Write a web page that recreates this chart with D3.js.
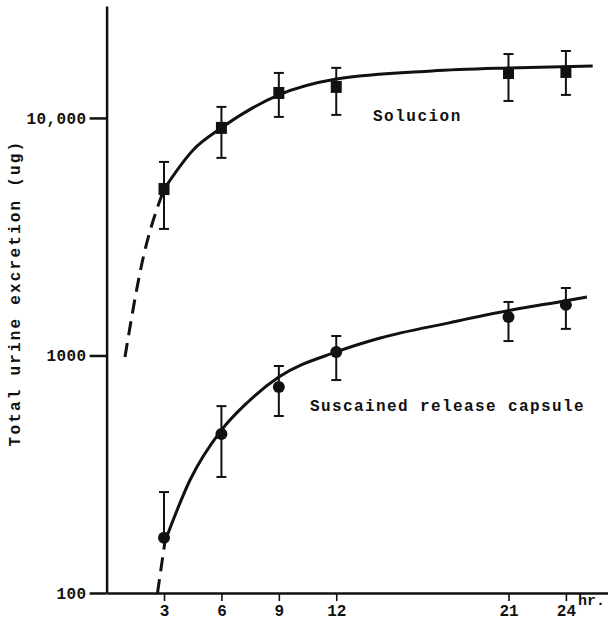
<!DOCTYPE html>
<html>
<head>
<meta charset="utf-8">
<script src="https://cdn.jsdelivr.net/npm/d3@7"></script>
<style>
  body { margin: 0; background: #fff; }
  text { font-family: "Liberation Mono", "DejaVu Sans Mono", monospace; fill: #111; font-weight: bold; }
</style>
</head>
<body>
<script>
// measured points (hours after dose)
var hours = [3, 6, 9, 12, 21, 24];
var solutionMean = [5020, 9080, 12740, 13510, 15460, 15620];
var solutionHigh = [6530, 11130, 15470, 16250, 18580, 19140];
var solutionLow  = [3410, 6790, 10100, 10300, 11790, 12500];
var capsuleMean = [171, 467, 736, 1035, 1452, 1633];
var capsuleHigh = [266, 612, 903, 1208, 1680, 1923];
var capsuleLow  = [null, 308, 556, 788, 1150, 1294];

// fitted curves
var solDashHours = [0.96, 1.85, 3];
var solDashVals  = [986, 2450, 5020];
var solFitHours = [3, 4.5, 6, 9, 12, 17, 21, 25.4];
var solFitVals  = [5020, 7300, 9080, 12500, 14580, 15780, 16240, 16560];
var capDashHours = [2.66, 3.05];
var capDashVals  = [100, 165];
var capFitHours = [3.05, 4.36, 6, 7.33, 9, 12, 14.3, 17.9, 21.1, 24, 25.1];
var capFitVals  = [165, 299, 485, 631, 811, 1035, 1185, 1372, 1550, 1700, 1763];

var yTicks = [100, 1000, 10000];
var yTickLabels = ['100', '1000', '10,000'];

var width = 608, height = 631;
var svg = d3.select('body').append('svg')
    .attr('width', width).attr('height', height);

var x = d3.scaleLinear().domain([0, 26.2]).range([106.6, 608]);
var y = d3.scaleLog().domain([100, 29600]).range([593, 6]);

// axes
var yAxis = d3.axisLeft(y).tickValues(yTicks)
    .tickFormat(function (d, i) { return yTickLabels[i]; })
    .tickSize(17).tickSizeOuter(0).tickPadding(3);
var yg = svg.append('g').attr('transform', 'translate(' + x(0) + ',0)').call(yAxis);
yg.selectAll('path, line').attr('stroke', '#111').attr('stroke-width', 2.5);
yg.selectAll('text').style('font-size', '16px').style('letter-spacing', '0.4px')
    .attr('font-family', null);

var xAxis = d3.axisBottom(x).tickValues(hours).tickSize(8).tickSizeOuter(0).tickPadding(4);
var xg = svg.append('g').attr('transform', 'translate(0,' + y(100) + ')').call(xAxis);
xg.selectAll('path').attr('stroke', '#111').attr('stroke-width', 2.5);
xg.selectAll('line').attr('stroke', '#111').attr('stroke-width', 1.6);
xg.selectAll('text').style('font-size', '16px').attr('font-family', null);
svg.selectAll('.domain').attr('fill', 'none');

svg.append('text').attr('x', 578).attr('y', 605)
    .style('font-size', '15px').text('hr.');

svg.append('text')
    .attr('transform', 'translate(20,293) rotate(-90)')
    .attr('text-anchor', 'middle')
    .style('font-size', '16px').style('letter-spacing', '2.2px')
    .text('Total urine excretion  (ug)');

// curves
var line = d3.line()
    .x(function (d) { return x(d[0]); })
    .y(function (d) { return y(d[1]); })
    .curve(d3.curveMonotoneX);

function drawCurve(hrs, vals, dashed) {
    svg.append('path')
        .datum(d3.zip(hrs, vals))
        .attr('d', line)
        .attr('fill', 'none')
        .attr('stroke', '#111')
        .attr('stroke-width', 3)
        .attr('stroke-dasharray', dashed ? '14,8' : null);
}
drawCurve(solDashHours, solDashVals, true);
drawCurve(solFitHours, solFitVals, false);
drawCurve(capDashHours, capDashVals, true);
drawCurve(capFitHours, capFitVals, false);

// error bars (a missing low value: bar stops at the mean)
function drawBars(mean, hi, lo) {
    hours.forEach(function (h, i) {
        var cx = x(h);
        var top = y(hi[i]);
        var bot = y(lo[i] == null ? mean[i] : lo[i]);
        var g = svg.append('g').attr('stroke', '#111').attr('stroke-width', 2);
        g.append('line').attr('x1', cx).attr('x2', cx).attr('y1', top).attr('y2', bot);
        g.append('line').attr('x1', cx - 5).attr('x2', cx + 5).attr('y1', top).attr('y2', top);
        if (lo[i] != null) {
            g.append('line').attr('x1', cx - 5).attr('x2', cx + 5).attr('y1', bot).attr('y2', bot);
        }
    });
}
drawBars(solutionMean, solutionHigh, solutionLow);
drawBars(capsuleMean, capsuleHigh, capsuleLow);

// markers
svg.selectAll('rect.sol').data(hours).enter().append('rect')
    .attr('class', 'sol')
    .attr('x', function (d) { return x(d) - 5.5; })
    .attr('y', function (d, i) { return y(solutionMean[i]) - 6; })
    .attr('width', 11).attr('height', 12)
    .attr('fill', '#111');

svg.selectAll('circle.cap').data(hours).enter().append('circle')
    .attr('class', 'cap')
    .attr('cx', function (d) { return x(d); })
    .attr('cy', function (d, i) { return y(capsuleMean[i]); })
    .attr('r', 6)
    .attr('fill', '#111');

// labels
svg.append('text').attr('x', 373).attr('y', 121)
    .style('font-size', '16px').style('letter-spacing', '1.5px')
    .text('Solucion');
svg.append('text').attr('x', 310).attr('y', 411)
    .style('font-size', '16px').style('letter-spacing', '1.4px')
    .text('Suscained release capsule');
</script>
</body>
</html>
